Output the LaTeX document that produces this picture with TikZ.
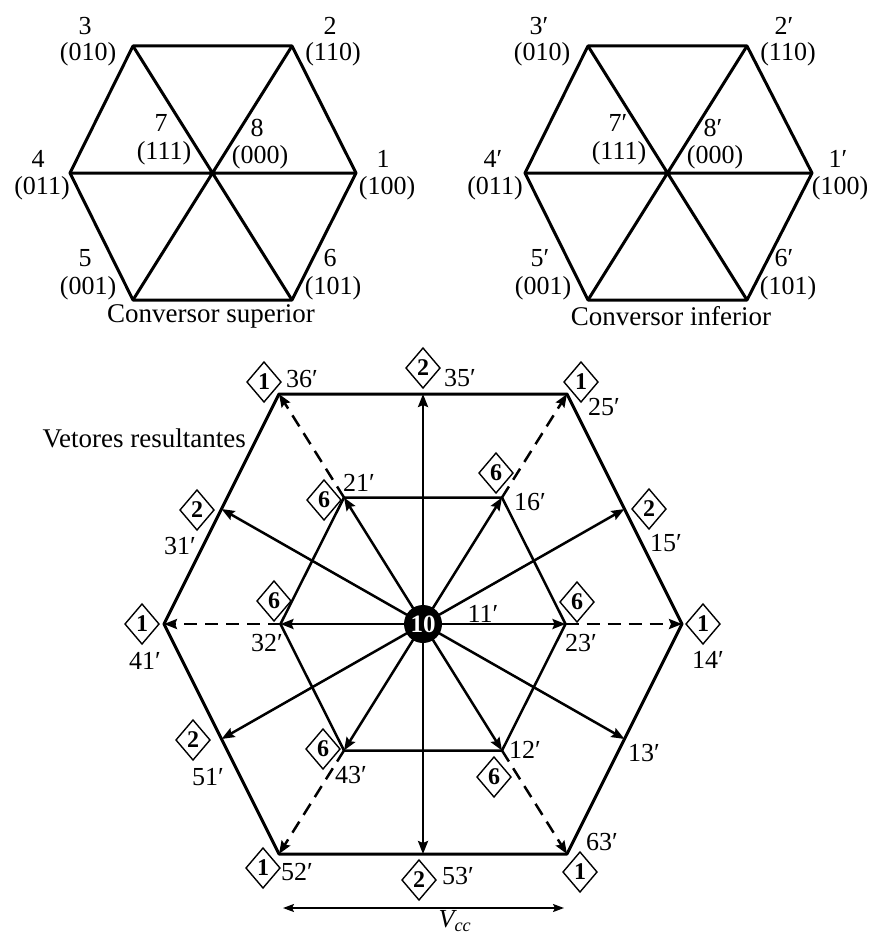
\documentclass[tikz,border=0pt]{standalone}
\usepackage{fontspec}
\setmainfont{Liberation Serif}
\usetikzlibrary{arrows.meta,shapes.geometric}
\begin{document}
\begin{tikzpicture}[x=1pt,y=-1pt,
  hexl/.style={line width=3pt, line join=round},
  vec/.style={line width=2.5pt, -{Stealth[length=13pt,width=10pt,inset=2pt]}},
  dvec/.style={vec, dash pattern=on 13pt off 8pt},
  dia/.style={inner sep=0pt, font=\bfseries\fontsize{24}{24}\selectfont,
    append after command={[draw, line width=1.4pt, fill=white]
      (\tikzlastnode.center) ++(0,-20) -- ++(17,20) -- ++(-17,20) -- ++(-17,-20) -- cycle}},
  lab/.style={inner sep=0pt, font=\fontsize{26}{28}\selectfont},
  capt/.style={inner sep=0pt, font=\fontsize{27}{30}\selectfont}]
\useasboundingbox (0,0) rectangle (871,934);

% ---------- Conversor superior ----------
\coordinate (a1) at (356,173); \coordinate (a2) at (292,46);
\coordinate (a3) at (133,46);  \coordinate (a4) at (70,173);
\coordinate (a5) at (133,300); \coordinate (a6) at (292,300);
\draw[hexl] (a1)--(a2)--(a3)--(a4)--(a5)--(a6)--cycle;
\draw[hexl] (a1)--(a4) (a2)--(a5) (a3)--(a6);
\node[lab] (la3) at (85,26) {3};   \node[lab] (la3b) at (88,54) {(010)};
\node[lab] (la2) at (330,26) {2};  \node[lab] (la2b) at (333,54) {(110)};
\node[lab] (la7) at (161,123) {7}; \node[lab] (la7b) at (164,153) {(111)};
\node[lab] (la8) at (257,128) {8}; \node[lab] (la8b) at (260,157) {(000)};
\node[lab] (la4) at (38,159) {4};  \node[lab] (la4b) at (42,188) {(011)};
\node[lab] (la1) at (383,159) {1}; \node[lab] (la1b) at (387,188) {(100)};
\node[lab] (la5) at (85,258) {5};  \node[lab] (la5b) at (88,288) {(001)};
\node[lab] (la6) at (330,258) {6}; \node[lab] (la6b) at (333,288) {(101)};
\node[capt] (capa) at (211,316) {Conversor superior};

% ---------- Conversor inferior ----------
\coordinate (b1) at (812,173); \coordinate (b2) at (747,46);
\coordinate (b3) at (588,46);  \coordinate (b4) at (525,173);
\coordinate (b5) at (588,300); \coordinate (b6) at (747,300);
\draw[hexl] (b1)--(b2)--(b3)--(b4)--(b5)--(b6)--cycle;
\draw[hexl] (b1)--(b4) (b2)--(b5) (b3)--(b6);
\node[lab] (lb3) at (539,26) {3′};   \node[lab] (lb3b) at (542,54) {(010)};
\node[lab] (lb2) at (784,26) {2′};   \node[lab] (lb2b) at (788,54) {(110)};
\node[lab] (lb7) at (618,123) {7′};  \node[lab] (lb7b) at (619,153) {(111)};
\node[lab] (lb8) at (713,128) {8′};  \node[lab] (lb8b) at (715,157) {(000)};
\node[lab] (lb4) at (493,159) {4′};  \node[lab] (lb4b) at (495,188) {(011)};
\node[lab] (lb1) at (838,159) {1′};  \node[lab] (lb1b) at (840,188) {(100)};
\node[lab] (lb5) at (540,258) {5′};  \node[lab] (lb5b) at (543,288) {(001)};
\node[lab] (lb6) at (784,258) {6′};  \node[lab] (lb6b) at (788,288) {(101)};
\node[capt] (capb) at (671,316) {Conversor inferior};

% ---------- Vetores resultantes ----------
\coordinate (o36) at (279,394); \coordinate (o25) at (567,394);
\coordinate (o14) at (682,624); \coordinate (o63) at (567,854);
\coordinate (o52) at (279,854); \coordinate (o41) at (164,624);
\coordinate (m35) at (423,394); \coordinate (m15) at (624.5,509);
\coordinate (m13) at (624.5,739); \coordinate (m53) at (423,854);
\coordinate (m51) at (221.5,739); \coordinate (m31) at (221.5,509);
\coordinate (i21) at (344,497.5); \coordinate (i16) at (502,497.5);
\coordinate (i23) at (565.5,624); \coordinate (i12) at (502,750.5);
\coordinate (i43) at (344,750.5); \coordinate (i32) at (280.5,624);
\coordinate (oc) at (423,624);

\draw[hexl] (o36)--(o25)--(o14)--(o63)--(o52)--(o41)--cycle;
\draw[line width=2.5pt, line join=round] (i21)--(i16)--(i23)--(i12)--(i43)--(i32)--cycle;

\node[circle, fill=black, minimum size=36pt, inner sep=0pt] (c) at (oc) {};

\foreach \p in {m35,m15,m13,m53,m51,m31,i21,i16,i23,i12,i43,i32}
  \draw[vec] (c) -- (\p);
\draw[dvec] (i21) -- (o36);
\draw[dvec] (i16) -- (o25);
\draw[dvec] (i23) -- (o14);
\draw[dvec] (i12) -- (o63);
\draw[dvec] (i43) -- (o52);
\draw[dvec] (i32) -- (o41);

\node[circle, fill=black, minimum size=38pt, inner sep=0pt, text=white, font=\bfseries\fontsize{25}{25}\selectfont] (c2) at (oc) {10};

% diamonds (frame drawn first, then digit on top)
\foreach \n/\x/\y/\t in {d36/264/382/1, d35/423/368/2, d25/581/382/1,
    d31/197/510/2, d15/649/509/2, d21/324/500/6, d16/496/473/6,
    d32/274/601/6, d23/577/602/6, d41/142/624/1, d14/703/624/1,
    d51/193/740/2, d43/323/749/6, d12/494/777/6, d52/263/868/1,
    d53/419/880/2, d63/580/872/1} {
  \draw[line width=1.4pt, fill=white] (\x,\y-20) -- (\x+17,\y) -- (\x,\y+20) -- (\x-17,\y) -- cycle;
  \node[inner sep=0pt, font=\bfseries\fontsize{24}{24}\selectfont] (\n) at (\x,\y) {\t};
}

% vector labels
\node[lab] (t36) at (302,379) {36′};
\node[lab] (t35) at (460,378) {35′};
\node[lab] (t25) at (604,407) {25′};
\node[lab] (t31) at (180,546) {31′};
\node[lab] (t15) at (666,543) {15′};
\node[lab] (t21) at (359,483) {21′};
\node[lab] (t16) at (530,502) {16′};
\node[lab] (t32) at (267,643) {32′};
\node[lab] (t23) at (581,643) {23′};
\node[lab] (t41) at (145,661) {41′};
\node[lab] (t14) at (708,660) {14′};
\node[lab] (t11) at (483,614) {11′};
\node[lab] (t51) at (208,777) {51′};
\node[lab] (t43) at (351,775) {43′};
\node[lab] (t12) at (525,750) {12′};
\node[lab] (t13) at (644,753) {13′};
\node[lab] (t52) at (297,872) {52′};
\node[lab] (t53) at (458,876) {53′};
\node[lab] (t63) at (602,842) {63′};

\node[capt, anchor=east] (vr) at (246,438) {Vetores resultantes};

% Vcc
\coordinate (vl) at (283,908); \coordinate (vr2) at (564,908);
\draw[line width=1.6pt, {Stealth[length=11pt,width=8pt,inset=2pt]}-{Stealth[length=11pt,width=8pt,inset=2pt]}] (vl) -- (vr2);
\node[lab, font=\itshape\fontsize{26}{28}\selectfont] (vcc) at (455,921) {V\textsubscript{cc}};
\end{tikzpicture}
\end{document}
